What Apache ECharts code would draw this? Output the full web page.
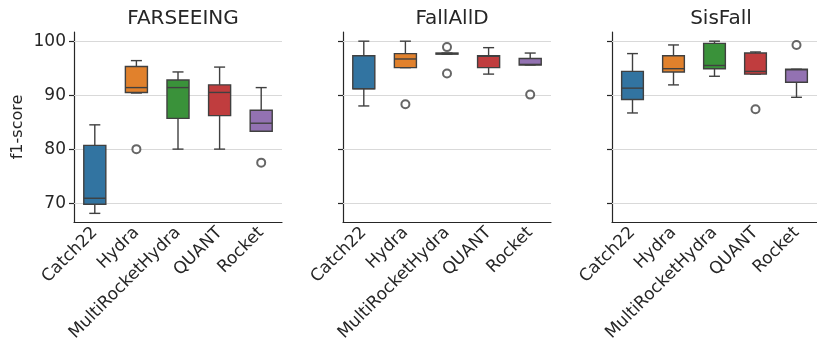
<!DOCTYPE html>
<html>
<head>
<meta charset="utf-8">
<script src="https://cdn.jsdelivr.net/npm/echarts@6/dist/echarts.min.js"></script>
<style>
  html, body { margin: 0; padding: 0; background: #fff; }
  #main { width: 817px; height: 350px; }
</style>
</head>
<body>
<div id="main"></div>
<script>
// datasets and models
var datasets = ['FARSEEING', 'FallAllD', 'SisFall'];
var models = ['Catch22', 'Hydra', 'MultiRocketHydra', 'QUANT', 'Rocket'];
var colors = ['#3274a1', '#e1812c', '#3a923a', '#c03d3e', '#9372b2'];
var yTicks = [70, 80, 90, 100];

// box stats per model: [low whisker, q1, median, q3, high whisker]
var farseeingBoxes = [
    [68.1, 69.8, 70.9, 80.7, 84.5],
    [90.4, 90.5, 91.4, 95.3, 96.4],
    [80.0, 85.7, 91.4, 92.8, 94.3],
    [80.0, 86.2, 90.5, 91.9, 95.2],
    [83.3, 83.3, 84.8, 87.2, 91.4]
];
var fallalldBoxes = [
    [88.0, 91.2, 91.2, 97.3, 100.0],
    [95.1, 95.1, 96.7, 97.7, 100.0],
    [97.6, 97.6, 97.7, 97.8, 97.8],
    [93.9, 95.1, 97.2, 97.3, 98.8],
    [95.6, 95.6, 95.7, 96.8, 97.8]
];
var sisfallBoxes = [
    [86.7, 89.2, 91.3, 94.4, 97.7],
    [91.9, 94.3, 94.9, 97.3, 99.3],
    [93.5, 94.9, 95.5, 99.6, 100.0],
    [93.9, 93.9, 94.4, 97.8, 98.0],
    [89.6, 92.4, 94.7, 94.8, 94.8]
];
// outliers: [model, value]
var farseeingOutliers = [['Hydra', 80.0], ['Rocket', 77.5]];
var fallalldOutliers = [['Hydra', 88.3], ['MultiRocketHydra', 98.9], ['MultiRocketHydra', 94.0], ['Rocket', 90.1]];
var sisfallOutliers = [['QUANT', 87.4], ['Rocket', 99.3]];

var allBoxes = [farseeingBoxes, fallalldBoxes, sisfallBoxes];
var allOutliers = [farseeingOutliers, fallalldOutliers, sisfallOutliers];

var lineColor = '#404040';
var textColor = '#262626';
var gridLefts = [74, 343, 612];
var gridWidth = 208;

function renderBox(params, api) {
    var idx = api.value(0);
    var lo = api.coord([idx, api.value(1)]);
    var q1 = api.coord([idx, api.value(2)]);
    var md = api.coord([idx, api.value(3)]);
    var q3 = api.coord([idx, api.value(4)]);
    var hi = api.coord([idx, api.value(5)]);
    var bw = api.size([1, 0])[0] * 0.53;
    var cx = lo[0];
    var cap = bw / 4;
    var st = {stroke: lineColor, lineWidth: 1.4};
    return {
        type: 'group',
        children: [
            {type: 'line', shape: {x1: cx, y1: q3[1], x2: cx, y2: hi[1]}, style: st},
            {type: 'line', shape: {x1: cx, y1: q1[1], x2: cx, y2: lo[1]}, style: st},
            {type: 'line', shape: {x1: cx - cap, y1: hi[1], x2: cx + cap, y2: hi[1]}, style: st},
            {type: 'line', shape: {x1: cx - cap, y1: lo[1], x2: cx + cap, y2: lo[1]}, style: st},
            {type: 'rect', shape: {x: cx - bw / 2, y: q3[1], width: bw, height: Math.max(q1[1] - q3[1], 1)},
                style: {fill: colors[params.dataIndex], stroke: lineColor, lineWidth: 1.4}},
            {type: 'line', shape: {x1: cx - bw / 2, y1: md[1], x2: cx + bw / 2, y2: md[1]}, style: st}
        ]
    };
}

var grids = [], xAxes = [], yAxes = [], titles = [], series = [];
for (var p = 0; p < 3; p++) {
    grids.push({left: gridLefts[p], width: p == 2 ? 205 : gridWidth, top: 32, height: 190});
    titles.push({
        text: datasets[p],
        left: gridLefts[p] + gridWidth / 2,
        textAlign: 'center',
        top: 4,
        textStyle: {fontFamily: 'DejaVu Sans', fontSize: 20, fontWeight: 'normal', color: textColor}
    });
    xAxes.push({
        type: 'category',
        gridIndex: p,
        data: models,
        axisLine: {lineStyle: {color: textColor, width: 1.2}},
        axisTick: {alignWithLabel: true, length: 5, lineStyle: {color: textColor, width: 1.2}},
        axisLabel: {rotate: 45, margin: 8, fontFamily: 'DejaVu Sans', fontSize: 17, color: textColor, interval: 0}
    });
    yAxes.push({
        type: 'value',
        gridIndex: p,
        min: 66.5,
        max: 101.7,
        name: p == 0 ? 'f1-score' : '',
        nameLocation: 'middle',
        nameGap: 48,
        nameTextStyle: {fontFamily: 'DejaVu Sans', fontSize: 16, color: textColor},
        axisLine: {show: true, lineStyle: {color: textColor, width: 1.2}},
        axisTick: {show: true, length: 5, customValues: yTicks, lineStyle: {color: textColor, width: 1.2}},
        axisLabel: {show: p == 0, customValues: yTicks, fontFamily: 'DejaVu Sans', fontSize: 17, color: textColor, margin: 8},
        splitLine: {show: false}
    });
    var boxData = allBoxes[p].map(function (b, i) {
        return [i].concat(b);
    });
    series.push({
        type: 'custom',
        xAxisIndex: p,
        yAxisIndex: p,
        renderItem: renderBox,
        encode: {x: 0, y: [1, 2, 3, 4, 5]},
        data: boxData,
        z: 3,
        markLine: {
            silent: true,
            symbol: 'none',
            label: {show: false},
            lineStyle: {color: '#d9d9d9', width: 1.2, type: 'solid'},
            data: yTicks.map(function (t) { return {yAxis: t}; }),
            z: 1
        }
    });
    series.push({
        type: 'scatter',
        xAxisIndex: p,
        yAxisIndex: p,
        symbol: 'emptyCircle',
        symbolSize: 8,
        itemStyle: {color: lineColor, borderWidth: 1.2},
        data: allOutliers[p],
        z: 4
    });
}

var myChart = echarts.init(document.getElementById('main'));
myChart.setOption({
    animation: false,
    backgroundColor: '#fff',
    title: titles,
    grid: grids,
    xAxis: xAxes,
    yAxis: yAxes,
    series: series
});
</script>
</body>
</html>
